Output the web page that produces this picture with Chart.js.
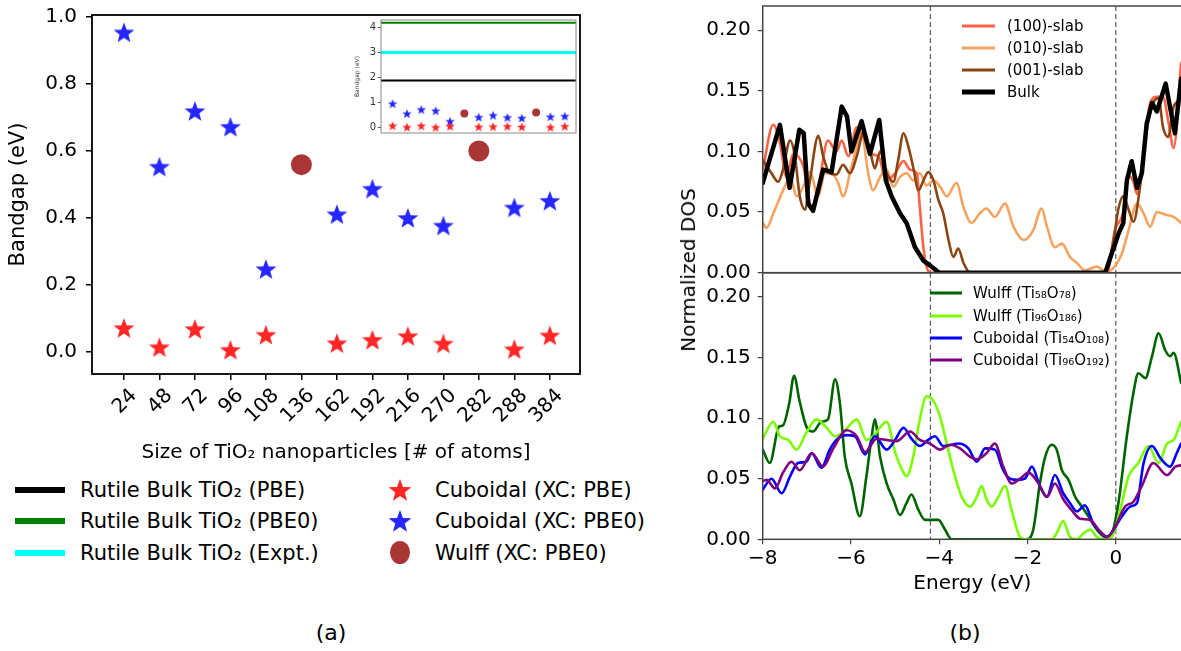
<!DOCTYPE html>
<html>
<head>
<meta charset="utf-8">
<script src="https://cdn.jsdelivr.net/npm/chart.js@4.4.1/dist/chart.umd.min.js"></script>
<style>
  html, body { margin: 0; padding: 0; background: #fff; }
  #page { position: relative; width: 1181px; height: 651px; overflow: hidden; font-family: "DejaVu Sans", sans-serif; color: #000; }
  canvas.c { position: absolute; }
  .lg { position: absolute; white-space: nowrap; transform: translateY(-50%); }
  .sw { position: absolute; transform: translateY(-50%); }
</style>
</head>
<body>
<div id="page">
  <canvas class="c" id="cA" width="600" height="470" style="left:0;top:0"></canvas>
  <canvas class="c" id="cInset" width="232" height="130" style="left:350px;top:14px"></canvas>
  <canvas class="c" id="cTop" width="522" height="285" style="left:660px;top:0"></canvas>
  <canvas class="c" id="cBot" width="522" height="340" style="left:660px;top:260px"></canvas>
  <div id="legends"></div>
  <div class="lg" style="left:688px;top:270px;font-size:20px;transform:translate(-50%,-50%) rotate(-90deg)">Normalized DOS</div>
  <div class="lg" style="left:331px;top:632px;font-size:22px;transform:translate(-50%,-50%)">(a)</div>
  <div class="lg" style="left:965px;top:632px;font-size:22px;transform:translate(-50%,-50%)">(b)</div>
</div>
<script>
/* --- panel (a): band gaps vs nanoparticle size --- */
const sizeLabels = ['24', '48', '72', '96', '108', '136', '162', '192', '216', '270', '282', '288', '384'];
const gapPBE   = [0.071, 0.014, 0.068, 0.006, 0.051, null, 0.026, 0.036, 0.047, 0.025, null, 0.008, 0.049];
const gapPBE0  = [0.954, 0.553, 0.719, 0.672, 0.247, null, 0.411, 0.487, 0.400, 0.377, null, 0.431, 0.451];
const gapWulff = [null, null, null, null, null, 0.559, null, null, null, null, 0.600, null, null];
const bulkGapPBE = 1.88;
const bulkGapPBE0 = 4.19;
const bulkGapExpt = 3.0;
const yTicksA = [0, 0.2, 0.4, 0.6, 0.8, 1.0];
const yTicksInset = [0, 1, 2, 3, 4];

/* --- panel (b): density of states --- */
const energyTicks = [-8, -6, -4, -2, 0];
const dosTicks = [0, 0.05, 0.10, 0.15, 0.20];
const gapEdges = [-4.2, 0];

const eBulk   = [-8.00, -7.61, -7.39, -7.17, -7.07, -6.97, -6.86, -6.63, -6.44, -6.21, -6.09, -5.99, -5.76, -5.57, -5.36, -5.21, -5.08, -4.89, -4.74, -4.55, -4.36, -4.21, -4.00,
                 -0.24, -0.09, 0.06, 0.17, 0.25, 0.36, 0.48, 0.59, 0.70, 0.82, 0.93, 1.13, 1.34, 1.48];
const dosBulk = [0.074, 0.122, 0.070, 0.118, 0.115, 0.057, 0.051, 0.085, 0.083, 0.137, 0.129, 0.100, 0.125, 0.098, 0.126, 0.076, 0.063, 0.049, 0.041, 0.021, 0.010, 0.006, 0,
                 0, 0.016, 0.032, 0.041, 0.076, 0.092, 0.070, 0.082, 0.123, 0.140, 0.133, 0.156, 0.115, 0.160];

const e100   = [-8.00, -7.76, -7.61, -7.46, -7.31, -7.20, -7.08, -6.89, -6.74, -6.52, -6.33, -6.21, -6.06, -5.87, -5.68, -5.53, -5.38, -5.19, -5.00, -4.81, -4.66, -4.51, -4.44, -4.36, -4.29, -4.17,
                -0.20, -0.02, 0.17, 0.29, 0.40, 0.48, 0.63, 0.78, 0.93, 1.07, 1.19, 1.31, 1.48];
const dos100 = [0.085, 0.122, 0.107, 0.079, 0.098, 0.096, 0.088, 0.054, 0.071, 0.109, 0.100, 0.109, 0.096, 0.120, 0.109, 0.098, 0.096, 0.076, 0.082, 0.092, 0.085, 0.082, 0.054, 0.021, 0.005, 0,
                0, 0.035, 0.050, 0.080, 0.075, 0.065, 0.100, 0.140, 0.145, 0.145, 0.125, 0.103, 0.173];

const e010   = [-8.00, -7.91, -7.76, -7.50, -7.38, -7.23, -7.08, -6.93, -6.74, -6.59, -6.44, -6.29, -6.18, -5.99, -5.76, -5.61, -5.50, -5.34, -5.19, -5.04,
                -4.89, -4.74, -4.59, -4.44, -4.29, -4.13, -3.98, -3.83, -3.61, -3.45, -3.27, -3.08, -2.93, -2.74, -2.51, -2.32, -2.09, -1.87, -1.68, -1.56,
                -1.38, -1.22, -1.04, -0.88, -0.70, -0.43, -0.24, -0.05, 0.14, 0.29, 0.48, 0.63, 0.78, 0.93, 1.12, 1.31, 1.48];
const dos010 = [0.041, 0.037, 0.049, 0.071, 0.079, 0.063, 0.071, 0.083, 0.063, 0.082, 0.082, 0.074, 0.063, 0.087, 0.115, 0.082, 0.068, 0.079, 0.085, 0.071,
                0.079, 0.082, 0.076, 0.082, 0.072, 0.076, 0.071, 0.063, 0.074, 0.054, 0.041, 0.049, 0.053, 0.046, 0.057, 0.038, 0.027, 0.035, 0.053, 0.038,
                0.021, 0.024, 0.013, 0.008, 0.002, 0.005, 0.001, 0.004, 0.016, 0.035, 0.057, 0.049, 0.038, 0.050, 0.048, 0.046, 0.041];

const e001   = [-8.00, -7.80, -7.65, -7.54, -7.38, -7.27, -7.16, -7.04, -6.93, -6.74, -6.63, -6.48, -6.33, -6.18, -6.02, -5.87, -5.72, -5.57, -5.46, -5.34,
                -5.19, -5.04, -4.93, -4.81, -4.70, -4.59, -4.47, -4.36, -4.25, -4.13, -4.02, -3.91, -3.79, -3.68, -3.57, -3.45, -3.30,
                -0.24, -0.05, 0.06, 0.17, 0.29, 0.40, 0.55, 0.70, 0.85, 0.97, 1.07, 1.19, 1.31, 1.48];
const dos001 = [0.093, 0.082, 0.075, 0.085, 0.109, 0.096, 0.063, 0.052, 0.076, 0.113, 0.096, 0.082, 0.081, 0.089, 0.082, 0.096, 0.115, 0.101, 0.086, 0.100,
                0.082, 0.075, 0.093, 0.115, 0.104, 0.087, 0.068, 0.076, 0.083, 0.076, 0.060, 0.049, 0.027, 0.013, 0.020, 0.008, 0,
                0, 0.027, 0.053, 0.063, 0.052, 0.042, 0.071, 0.118, 0.140, 0.144, 0.120, 0.112, 0.137, 0.142];

const eW58   = [-8.00, -7.84, -7.63, -7.54, -7.40, -7.29, -7.17, -7.01, -6.86, -6.67, -6.52, -6.36, -6.25, -6.14, -5.99, -5.80, -5.65, -5.53, -5.46, -5.34,
                -5.19, -5.04, -4.89, -4.74, -4.63, -4.47, -4.32, -4.17, -4.02, -3.87, -3.72, -2.02, -1.87, -1.72, -1.60, -1.45, -1.34, -1.22, -1.07, -0.92,
                -0.77, -0.62, -0.43, -0.24, -0.09, 0.06, 0.25, 0.40, 0.51, 0.67, 0.82, 0.97, 1.12, 1.23, 1.31, 1.48];
const dosW58 = [0.074, 0.063, 0.093, 0.094, 0.112, 0.135, 0.115, 0.093, 0.089, 0.097, 0.099, 0.132, 0.112, 0.068, 0.046, 0.019, 0.052, 0.085, 0.099, 0.068,
                0.046, 0.033, 0.020, 0.030, 0.037, 0.024, 0.016, 0.016, 0.016, 0.008, 0, 0, 0.008, 0.046, 0.068, 0.078, 0.074, 0.057, 0.049, 0.035,
                0.027, 0.019, 0.008, 0.002, 0.005, 0.030, 0.085, 0.121, 0.137, 0.133, 0.151, 0.170, 0.156, 0.151, 0.154, 0.129];

const eW96   = [-8.00, -7.76, -7.61, -7.42, -7.23, -7.01, -6.78, -6.55, -6.36, -6.18, -5.87, -5.65, -5.50, -5.19, -5.00, -4.81, -4.74, -4.59, -4.44, -4.29,
                -4.13, -3.98, -3.83, -3.68, -3.49, -3.30, -3.15, -3.04, -2.93, -2.81, -2.66, -2.51, -2.36, -2.17, -2.02, -1.45, -1.34, -1.19, -1.04, -0.88,
                -0.73, -0.58, -0.43, -0.28, -0.09, 0.10, 0.29, 0.51, 0.74, 0.97, 1.16, 1.31, 1.48];
const dosW96 = [0.083, 0.097, 0.085, 0.082, 0.074, 0.088, 0.099, 0.092, 0.085, 0.088, 0.099, 0.082, 0.085, 0.097, 0.072, 0.055, 0.052, 0.068, 0.099, 0.118,
                0.114, 0.101, 0.079, 0.057, 0.035, 0.027, 0.035, 0.044, 0.033, 0.027, 0.035, 0.044, 0.024, 0.002, 0, 0, 0.005, 0.015, 0.002, 0,
                0.005, 0.008, 0.002, 0, 0.002, 0.024, 0.052, 0.063, 0.077, 0.063, 0.079, 0.082, 0.097];

const eC54   = [-8.00, -7.80, -7.57, -7.38, -7.20, -7.01, -6.89, -6.67, -6.48, -6.33, -6.10, -5.91, -5.68, -5.46, -5.19, -5.00, -4.81, -4.63, -4.44, -4.25,
                -4.10, -3.91, -3.72, -3.57, -3.34, -3.15, -2.96, -2.74, -2.55, -2.40, -2.21, -2.06, -1.90, -1.72, -1.56, -1.38, -1.19, -1.04, -0.88, -0.70,
                -0.51, -0.32, -0.20, -0.05, 0.14, 0.33, 0.48, 0.63, 0.82, 1.01, 1.23, 1.38, 1.48];
const dosC54 = [0.041, 0.050, 0.038, 0.052, 0.063, 0.064, 0.071, 0.059, 0.074, 0.082, 0.086, 0.085, 0.070, 0.085, 0.074, 0.082, 0.092, 0.083, 0.077, 0.082,
                0.085, 0.077, 0.078, 0.079, 0.075, 0.064, 0.075, 0.074, 0.057, 0.050, 0.049, 0.050, 0.060, 0.044, 0.035, 0.053, 0.038, 0.030, 0.023, 0.028,
                0.013, 0.005, 0.002, 0.008, 0.019, 0.027, 0.030, 0.063, 0.077, 0.067, 0.060, 0.071, 0.079];

const eC96   = [-8.00, -7.91, -7.72, -7.54, -7.35, -7.16, -6.89, -6.63, -6.40, -6.10, -5.87, -5.68, -5.42, -5.19, -4.97, -4.66, -4.44, -4.21, -3.98, -3.76,
                -3.53, -3.30, -3.15, -2.93, -2.74, -2.55, -2.36, -2.17, -1.98, -1.75, -1.56, -1.38, -1.19, -1.00, -0.81, -0.58, -0.39, -0.20, -0.02, 0.21,
                0.40, 0.59, 0.85, 1.16, 1.35, 1.48];
const dosC96 = [0.048, 0.049, 0.042, 0.055, 0.064, 0.057, 0.071, 0.060, 0.075, 0.090, 0.085, 0.072, 0.083, 0.082, 0.081, 0.089, 0.082, 0.079, 0.074, 0.078,
                0.075, 0.068, 0.066, 0.071, 0.079, 0.060, 0.046, 0.050, 0.055, 0.046, 0.035, 0.046, 0.033, 0.024, 0.017, 0.016, 0.008, 0.002, 0.010, 0.027,
                0.031, 0.044, 0.063, 0.053, 0.060, 0.061];

// Colours
const C_RED = 'rgba(255, 0, 0, 0.85)';
const C_BLUE = 'rgba(0, 0, 255, 0.85)';
const C_BROWN = 'rgba(165, 42, 42, 0.95)';

Chart.defaults.font.family = '"DejaVu Sans", sans-serif';
Chart.defaults.color = '#000';

function starImage(size, color) {
  const c = document.createElement('canvas');
  c.width = c.height = size;
  const ctx = c.getContext('2d');
  const R = size / 2, r = R * 0.42;
  ctx.beginPath();
  for (let i = 0; i < 10; i++) {
    const a = -Math.PI / 2 + i * Math.PI / 5;
    const rad = i % 2 ? r : R;
    ctx.lineTo(R + rad * Math.cos(a), R + rad * Math.sin(a) + R * 0.08);
  }
  ctx.closePath();
  ctx.fillStyle = color;
  ctx.fill();
  return c;
}

const catPts = vals => vals.map((v, i) => v == null ? null : { x: i, y: v }).filter(p => p);
const pts = (xs, ys) => xs.map((x, i) => ({ x: x, y: ys[i] }));

// chart.js reserves room for half tick labels; we place the plot area ourselves
function fixY(width) {
  return s => { s.width = width; s.paddingTop = 0; s.paddingBottom = 0; };
}
function fixX(height) {
  return s => { s.height = height; s.paddingLeft = 0; s.paddingRight = 0; };
}

// box around the plot area (matplotlib spines)
const framePlugin = {
  id: 'frame',
  afterDatasetsDraw(chart, args, opts) {
    const { ctx, chartArea: a } = chart;
    ctx.save();
    ctx.strokeStyle = opts.color || '#000';
    ctx.lineWidth = opts.width || 1.5;
    ctx.strokeRect(a.left, a.top, a.right - a.left, a.bottom - a.top);
    ctx.restore();
  }
};

// dashed vertical lines (VBM / CBM) at energies in gapEdges
const vLinePlugin = {
  id: 'vlines',
  beforeDatasetsDraw(chart, args, opts) {
    if (!opts.values) return;
    const { ctx, chartArea: a, scales } = chart;
    ctx.save();
    ctx.strokeStyle = '#666';
    ctx.lineWidth = 1.3;
    ctx.setLineDash([5, 3]);
    opts.values.forEach(v => {
      const x = scales.x.getPixelForValue(v);
      ctx.beginPath(); ctx.moveTo(x, a.top); ctx.lineTo(x, a.bottom); ctx.stroke();
    });
    ctx.restore();
  }
};

// horizontal reference lines (bulk gaps) in the inset
const hLinePlugin = {
  id: 'hlines',
  beforeDatasetsDraw(chart, args, opts) {
    if (!opts.lines) return;
    const { ctx, chartArea: a, scales } = chart;
    ctx.save();
    opts.lines.forEach(l => {
      const y = scales.y.getPixelForValue(l.value);
      ctx.strokeStyle = l.color; ctx.lineWidth = l.width;
      ctx.beginPath(); ctx.moveTo(a.left, y); ctx.lineTo(a.right, y); ctx.stroke();
    });
    ctx.restore();
  }
};

const noLegend = { legend: { display: false }, tooltip: { enabled: false } };

/* --- (a) main scatter --- */
const bigRed = starImage(22, C_RED), bigBlue = starImage(22, C_BLUE);
new Chart(document.getElementById('cA'), {
  type: 'scatter',
  data: {
    datasets: [
      { data: catPts(gapPBE), pointStyle: bigRed, pointRadius: 11 },
      { data: catPts(gapPBE0), pointStyle: bigBlue, pointRadius: 11 },
      { data: catPts(gapWulff), pointStyle: 'circle', pointRadius: 10.5, backgroundColor: C_BROWN, borderWidth: 0 }
    ]
  },
  options: {
    responsive: false, animation: false, events: [],
    layout: { padding: { top: 15, right: 20, left: 0, bottom: 0 } },
    plugins: Object.assign({ frame: { color: '#000', width: 1.8 } }, noLegend),
    scales: {
      x: {
        type: 'linear', min: -0.9, max: 12.85,
        afterBuildTicks: s => { s.ticks = sizeLabels.map((l, i) => ({ value: i })); },
        afterFit: fixX(96),
        ticks: { callback: v => sizeLabels[v], minRotation: 45, maxRotation: 45, labelOffset: 10, padding: 4, font: { size: 20 }, autoSkip: false },
        grid: { drawOnChartArea: false, drawTicks: true, tickLength: 6, color: '#000', lineWidth: 1.5 },
        border: { display: false },
        title: { display: true, text: 'Size of TiO₂ nanoparticles [# of atoms]', font: { size: 20 }, padding: { top: 4, bottom: 5 } }
      },
      y: {
        min: -0.066, max: 1.006,
        afterBuildTicks: s => { s.ticks = yTicksA.map(v => ({ value: v })); },
        afterFit: fixY(92),
        ticks: { callback: v => v.toFixed(1), font: { size: 20 }, padding: 9 },
        grid: { drawOnChartArea: false, drawTicks: true, tickLength: 6, color: '#000', lineWidth: 1.5 },
        border: { display: false },
        title: { display: true, text: 'Bandgap (eV)', font: { size: 21 }, padding: { top: 6, bottom: 0 } }
      }
    }
  },
  plugins: [framePlugin]
});

/* --- (a) inset with bulk gaps --- */
const smRed = starImage(10, C_RED), smBlue = starImage(10, C_BLUE);
new Chart(document.getElementById('cInset'), {
  type: 'scatter',
  data: {
    datasets: [
      { data: catPts(gapPBE), pointStyle: smRed, pointRadius: 5 },
      { data: catPts(gapPBE0), pointStyle: smBlue, pointRadius: 5 },
      { data: catPts(gapWulff), pointStyle: 'circle', pointRadius: 4, backgroundColor: C_BROWN, borderWidth: 0 }
    ]
  },
  options: {
    responsive: false, animation: false, events: [],
    layout: { padding: { top: 4, right: 5, left: 0, bottom: 0 } },
    plugins: Object.assign({
      frame: { color: '#888', width: 1 },
      hlines: { lines: [
        { value: bulkGapPBE0, color: 'green', width: 2 },
        { value: bulkGapExpt, color: '#00ffff', width: 3 },
        { value: bulkGapPBE, color: '#000', width: 2 }
      ] }
    }, noLegend),
    scales: {
      x: {
        type: 'linear', min: -0.81, max: 12.78,
        afterFit: fixX(11),
        ticks: { display: false },
        grid: { display: false },
        border: { display: false }
      },
      y: {
        min: -0.22, max: 4.3,
        afterBuildTicks: s => { s.ticks = yTicksInset.map(v => ({ value: v })); },
        afterFit: fixY(31),
        ticks: { font: { size: 10 }, color: '#333', padding: 2 },
        grid: { drawOnChartArea: false, drawTicks: true, tickLength: 3, color: '#555' },
        border: { display: false },
        title: { display: true, text: 'Bandgap (eV)', font: { size: 6 }, color: '#333', padding: { top: 4, bottom: 0 } }
      }
    }
  },
  plugins: [framePlugin, hLinePlugin]
});

/* --- (b) DOS panels --- */
function dosLine(xs, ys, color, width, tension) {
  return {
    data: pts(xs, ys), showLine: true, borderColor: color, borderWidth: width,
    pointRadius: 0, tension: tension, cubicInterpolationMode: tension ? 'monotone' : 'default',
    borderJoinStyle: 'round', borderCapStyle: 'round'
  };
}

function dosOptions(showX, padTop, xHeight) {
  return {
    responsive: false, animation: false, events: [],
    layout: { padding: { top: padTop, right: 0, left: 0, bottom: 0 } },
    plugins: Object.assign({ frame: { color: '#444', width: 1.5 }, vlines: { values: gapEdges } }, noLegend),
    scales: {
      x: {
        type: 'linear', min: -8, max: 1.5,
        afterBuildTicks: s => { s.ticks = energyTicks.map(v => ({ value: v })); },
        afterFit: fixX(xHeight),
        ticks: { display: showX, callback: v => (v < 0 ? '\u2212' + Math.abs(v) : '' + v), font: { size: 20 }, padding: 2 },
        grid: { drawOnChartArea: false, drawTicks: showX, tickLength: 5, color: '#444', lineWidth: 1.2 },
        border: { display: false },
        title: { display: showX, text: 'Energy (eV)', font: { size: 20 }, padding: { top: 2, bottom: 4 } }
      },
      y: {
        min: 0, max: 0.22,
        afterBuildTicks: s => { s.ticks = dosTicks.map(v => ({ value: v })); },
        afterFit: fixY(102.7),
        ticks: { callback: v => v.toFixed(2), font: { size: 20 }, padding: 7 },
        grid: { drawOnChartArea: false, drawTicks: true, tickLength: 5, color: '#444', lineWidth: 1.2 },
        border: { display: false }
      }
    }
  };
}

new Chart(document.getElementById('cTop'), {
  type: 'scatter',
  data: {
    datasets: [
      dosLine(eBulk, dosBulk, '#000', 4.5, 0),
      dosLine(e001, dos001, '#8B4513', 2.6, 0.4),
      dosLine(e100, dos100, '#FF6347', 2.6, 0.4),
      dosLine(e010, dos010, '#F4A460', 2.6, 0.4)
    ]
  },
  options: dosOptions(false, 6, 12.3),
  plugins: [framePlugin, vLinePlugin]
});

new Chart(document.getElementById('cBot'), {
  type: 'scatter',
  data: {
    datasets: [
      dosLine(eC96, dosC96, '#800080', 2.6, 0.4),
      dosLine(eC54, dosC54, '#0000FF', 2.6, 0.4),
      dosLine(eW96, dosW96, '#7CFC00', 2.6, 0.4),
      dosLine(eW58, dosW58, '#006400', 2.6, 0.4)
    ]
  },
  options: dosOptions(true, 12.7, 60.7),
  plugins: [framePlugin, vLinePlugin]
});

/* --- legends --- */
const lg = document.getElementById('legends');
function addText(x, y, size, html) {
  const d = document.createElement('div');
  d.className = 'lg';
  d.style.left = x + 'px'; d.style.top = y + 'px'; d.style.fontSize = size + 'px';
  d.innerHTML = html;
  lg.appendChild(d);
}
function addLine(x1, x2, y, color, w) {
  const d = document.createElement('div');
  d.className = 'sw';
  d.style.left = x1 + 'px'; d.style.top = y + 'px';
  d.style.width = (x2 - x1) + 'px'; d.style.height = w + 'px'; d.style.background = color;
  lg.appendChild(d);
}
function addMarker(cx, cy, el) {
  el.style.position = 'absolute';
  el.style.left = (cx - el.width / 2) + 'px';
  el.style.top = (cy - el.height / 2) + 'px';
  lg.appendChild(el);
}

// (a) legend
addLine(15, 65, 490, '#000', 6);   addText(80, 490, 21, 'Rutile Bulk TiO₂ (PBE)');
addLine(15, 65, 521, 'green', 6);  addText(80, 521, 21, 'Rutile Bulk TiO₂ (PBE0)');
addLine(15, 65, 553, '#00ffff', 6); addText(80, 553, 21, 'Rutile Bulk TiO₂ (Expt.)');
addMarker(400, 490, starImage(24, C_RED));  addText(435, 490, 21, 'Cuboidal (XC: PBE)');
addMarker(400, 521, starImage(24, C_BLUE)); addText(435, 521, 21, 'Cuboidal (XC: PBE0)');
(function () {
  const d = document.createElement('div');
  d.style.cssText = 'position:absolute;left:390px;top:541px;width:20px;height:23px;border-radius:50%;background:' + C_BROWN;
  lg.appendChild(d);
})();
addText(435, 553, 21, 'Wulff (XC: PBE0)');

// (b) top legend
addLine(962, 995, 26, '#FF6347', 3);  addText(1007, 26, 15, '(100)-slab');
addLine(962, 995, 48, '#F4A460', 3);  addText(1007, 48, 15, '(010)-slab');
addLine(962, 995, 70, '#8B4513', 3);  addText(1007, 70, 15, '(001)-slab');
addLine(962, 995, 92, '#000', 5);     addText(1007, 92, 15, 'Bulk');

// (b) bottom legend
addLine(930, 962, 293, '#006400', 3); addText(973, 293, 15, 'Wulff (Ti₅₈O₇₈)');
addLine(930, 962, 316, '#7CFC00', 3); addText(973, 316, 15, 'Wulff (Ti₉₆O₁₈₆)');
addLine(930, 962, 338, '#0000FF', 3); addText(973, 338, 15, 'Cuboidal (Ti₅₄O₁₀₈)');
addLine(930, 962, 360, '#800080', 3); addText(973, 360, 15, 'Cuboidal (Ti₉₆O₁₉₂)');
</script>
</body>
</html>
